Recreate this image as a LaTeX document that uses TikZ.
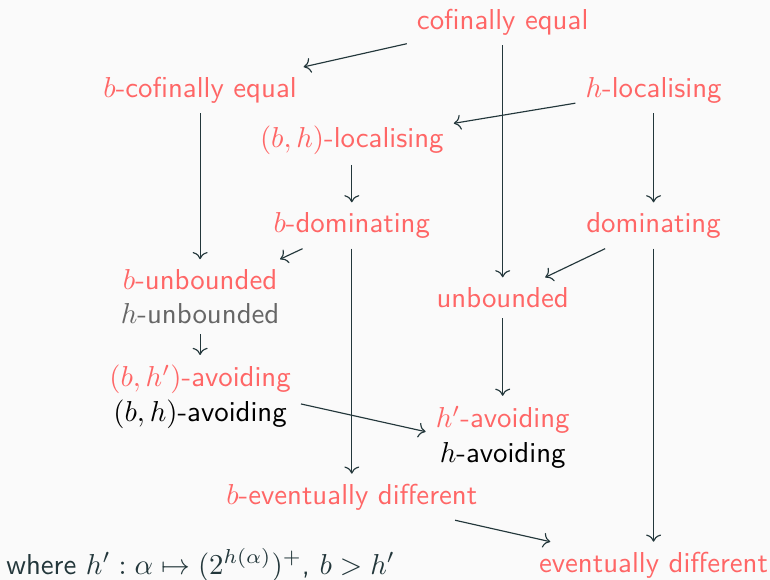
\documentclass[tikz,border=0pt]{standalone}
\usepackage{amsmath,amssymb}
\usepackage{xcolor}
\usepackage{tikz}
\usetikzlibrary{arrows.meta}
\definecolor{mred}{HTML}{FF6666}
\definecolor{mgray}{HTML}{666666}
\definecolor{mteal}{HTML}{23373B}
\definecolor{mbg}{HTML}{FAFAFA}
\tikzset{
  prop/.style={text=mred, align=center},
  impl/.style={->, draw=mteal},
}
\begin{document}
\begin{tikzpicture}[font=\sffamily]
\fill[mbg] (0,0) rectangle (9.39,7.07);
\useasboundingbox (0,0) rectangle (9.39,7.07);
\node[prop] (cofeq) at (6.13,6.80) {cofinally equal};
\node[prop] (bcofeq) at (2.44,5.97) {$b$-cofinally equal};
\node[prop] (hloc) at (7.97,5.97) {$h$-localising};
\node[prop] (bhloc) at (4.29,5.36) {$(b,h)$-localising};
\node[prop] (bdom) at (4.29,4.32) {$b$-dominating};
\node[prop] (dom) at (7.97,4.32) {dominating};
\node[prop] (bunb) at (2.44,3.45) {$b$-unbounded\\{\color{mgray}$h$-unbounded}};
\node[prop] (unb) at (6.13,3.44) {unbounded};
\node[prop] (bhavoid) at (2.44,2.23) {$(b,h')$-avoiding\\{\color{black}$(b,h)$-avoiding}};
\node[prop] (havoid) at (6.13,1.74) {$h'$-avoiding\\{\color{black}$h$-avoiding}};
\node[prop] (bevdiff) at (4.29,1.01) {$b$-eventually different};
\node[prop] (evdiff) at (7.97,0.18) {eventually different};
\node[mteal, anchor=base west, inner sep=0pt] (note) at (0.07,0.07) {where $h' : \alpha \mapsto (2^{h(\alpha)})^+$, $b > h'$};
% implications
\draw[impl] (cofeq) -- (bcofeq);
\draw[impl] (cofeq) -- (unb);
\draw[impl] (hloc) -- (bhloc);
\draw[impl] (hloc) -- (dom);
\draw[impl] (bcofeq) -- (bunb);
\draw[impl] (bhloc) -- (bdom);
\draw[impl] (bdom) -- (bunb);
\draw[impl] (bdom) -- (bevdiff);
\draw[impl] (dom) -- (unb);
\draw[impl] (dom) -- (evdiff);
\draw[impl] (bunb) -- (bhavoid);
\draw[impl] (unb) -- (havoid);
\draw[impl] (bhavoid.-4) -- (havoid.176);
\draw[impl] (bevdiff) -- (evdiff);
\end{tikzpicture}
\end{document}
